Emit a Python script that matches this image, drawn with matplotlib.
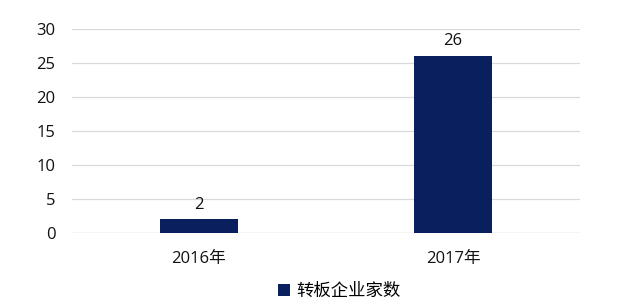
import matplotlib.pyplot as plt

plt.rcParams['font.family'] = ['Open Sans', 'Noto Sans CJK SC', 'DejaVu Sans']

categories = ["2016年", "2017年"]
values = [2, 26]
series_name = "转板企业家数"
yticks = [0, 5, 10, 15, 20, 25, 30]

fig = plt.figure(figsize=(6.25, 3.06), dpi=100)
ax = fig.add_axes([0.1152, 0.2386, 0.8128, 0.6664])

x = list(range(len(categories)))
bars = ax.bar(x, values, width=0.31, color="#0A1F5E", label=series_name, zorder=3)
for xi, v in zip(x, values):
    ax.text(xi, v + 1.0, str(v), ha="center", va="bottom", fontsize=12, color="#111111")

ax.set_xlim(-0.5, 1.5)
ax.set_ylim(0, 30)
ax.set_yticks(yticks)
ax.set_xticks(x)
ax.set_xticklabels(categories)
ax.grid(axis="y", color="#d9d9d9", linewidth=0.9, zorder=0)
ax.tick_params(axis="both", length=0, labelsize=12, colors="#111111")
ax.tick_params(axis="x", pad=13)
ax.tick_params(axis="y", pad=12)
for s in ax.spines.values():
    s.set_visible(False)
ax.axhline(0, color="#d9d9d9", linewidth=0.9, zorder=1)

fig.legend(handles=[bars], labels=[series_name], loc="center", bbox_to_anchor=(0.543, 0.045),
           frameon=False, fontsize=12.5, handlelength=0.7, handleheight=0.7, handletextpad=0.4)

fig.savefig("out.png", dpi=100)
